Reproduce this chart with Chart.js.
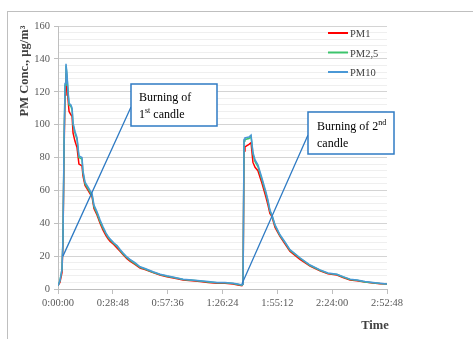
<!DOCTYPE html>
<html>
<head>
<meta charset="utf-8">
<script src="https://cdn.jsdelivr.net/npm/chart.js@4"></script>
<style>
  body { margin: 0; overflow: hidden; background: #fff; }
  #frame { position: absolute; left: 7px; top: 11px; width: 600px; height: 500px; border: 1px solid #bfbfbf; }
  #chart { position: absolute; left: 0; top: 0; }
</style>
</head>
<body>
<div id="frame"></div>
<canvas id="chart" width="473" height="339"></canvas>
<script>
// time of each reading, minutes from start
const timeMin = [0, 1.0, 2.1, 2.6, 3.2, 3.7, 4.2, 4.7, 5.3, 5.8, 6.8, 7.4, 7.9, 8.9, 10, 11, 12.6, 13.1, 14.2, 15.8,
  16.8, 17.9, 18.9, 20.5, 22.1, 23.6, 25.2, 26.3, 27.3, 29.4, 31, 32.6, 34.1, 36.2, 37.8, 40.4, 43.1, 45.7, 49.9, 53.6,
  57.2, 61.4, 65.7, 70.4, 74.6, 78.8, 83.5, 87.7, 91.9, 94.5, 96.6, 97.2, 97.7, 98.2, 100.3, 101.4, 102.4, 103.5, 105, 107.1,
  109.2, 110.3, 111.3, 112.4, 114, 116.6, 119.2, 121.8, 127.1, 132.4, 137.6, 141.8, 146.5, 149.7, 153.4, 157, 161.2, 165.4, 169.1, 172.8];

const pm1 = [2, 4, 10, 28, 85, 118, 129, 127, 115, 108, 106, 105, 95, 90, 86, 76, 75, 69, 63, 60,
  58, 56, 49, 45, 40, 36, 32.5, 30.5, 29, 27, 25, 23, 21, 18.5, 17, 15, 12.8, 11.8, 10, 8.5,
  7.5, 6.5, 5.5, 5, 4.5, 4, 3.5, 3.5, 3, 2.5, 2, 3, 84, 86.5, 88, 89, 77, 74, 72, 64.5,
  56, 51, 46, 44, 37.5, 32, 27.5, 23, 18, 14, 11, 9.2, 8.5, 7, 5.5, 5, 4.2, 3.7, 3.2, 3];

const pm25 = [2, 5, 12, 30, 90, 124, 136, 130, 119, 112, 111, 109, 100, 95, 91, 80, 79, 71, 64, 61,
  59, 57, 50, 46, 41, 37, 33.5, 31.5, 30, 27.5, 26, 23.5, 21.5, 19, 17.5, 15.5, 13.2, 12.2, 10.2, 8.8,
  7.8, 6.8, 5.8, 5.3, 4.8, 4.3, 3.8, 3.8, 3.3, 2.8, 2.3, 3, 90, 91, 91.5, 92.7, 82, 77.5, 74.5, 66.5,
  58, 53, 47.5, 44.5, 38.5, 32.5, 28.2, 23.6, 18.7, 14.3, 11.4, 9.5, 8.8, 7.3, 5.8, 5.3, 4.3, 3.8, 3.3, 3];

const pm10 = [2, 5, 12, 30, 90, 125, 137, 131, 120, 113, 112, 110, 101, 96, 92, 81, 80, 72, 65, 62,
  60, 58, 51, 47, 42, 38, 34, 32, 30.5, 28, 26.5, 24, 22, 19.5, 18, 16, 13.5, 12.5, 10.5, 9,
  8, 7, 6, 5.5, 5, 4.5, 4, 4, 3.5, 3, 2.5, 3, 91, 92, 92.5, 93.7, 83, 78.5, 75.5, 67.5,
  59, 54, 48, 45, 39, 33, 28.6, 24, 19, 14.6, 11.6, 9.7, 9, 7.5, 6, 5.5, 4.5, 4, 3.5, 3];

const seriesNames = ["PM1", "PM2,5", "PM10"];
const seriesColors = ["#ff0000", "#3cc46c", "#4a98d6"];

const xStepSec = 1728; // 0:28:48
const xMaxSec = 10368; // 2:52:48
const yMax = 160;

const serif = "'Liberation Serif', 'Times New Roman', serif";
const textGrey = "#595959";

function toPoints(values) {
  return timeMin.map((t, i) => ({ x: t * 60, y: values[i] }));
}

function fmtTime(sec) {
  sec = Math.round(sec);
  const h = Math.floor(sec / 3600);
  const m = Math.floor((sec % 3600) / 60);
  const s = sec % 60;
  return h + ":" + String(m).padStart(2, "0") + ":" + String(s).padStart(2, "0");
}

// text with a raised small suffix (1st, 2nd)
function supText(ctx, base, sup, rest, x, y) {
  ctx.font = "12px " + serif;
  ctx.fillText(base, x, y);
  let w = ctx.measureText(base).width;
  ctx.font = "8px " + serif;
  ctx.fillText(sup, x + w, y - 5);
  w += ctx.measureText(sup).width;
  ctx.font = "12px " + serif;
  if (rest) ctx.fillText(rest, x + w, y);
}

const extras = {
  id: "extras",
  afterDraw(chart) {
    const ctx = chart.ctx;
    const xs = chart.scales.x;
    const ys = chart.scales.y;
    ctx.save();

    // callout pointer lines
    ctx.strokeStyle = "#2f7bc4";
    ctx.lineWidth = 1.3;
    ctx.beginPath();
    ctx.moveTo(xs.getPixelForValue(2.6 * 60), ys.getPixelForValue(20));
    ctx.lineTo(131, 107);
    ctx.moveTo(xs.getPixelForValue(96.6 * 60), ys.getPixelForValue(3));
    ctx.lineTo(308, 135);
    ctx.stroke();

    // callout boxes
    ctx.fillStyle = "#fff";
    ctx.lineWidth = 1.5;
    ctx.fillRect(131, 84, 86, 42);
    ctx.strokeRect(131, 84, 86, 42);
    ctx.fillRect(308, 112, 86, 42);
    ctx.strokeRect(308, 112, 86, 42);

    ctx.fillStyle = "#000";
    ctx.textAlign = "left";
    ctx.textBaseline = "alphabetic";
    ctx.font = "12px " + serif;
    ctx.fillText("Burning of", 139, 101);
    supText(ctx, "1", "st", " candle", 139, 118);
    supText(ctx, "Burning of 2", "nd", "", 317, 130);
    ctx.font = "12px " + serif;
    ctx.fillText("candle", 317, 147);

    // legend
    const ly = [33, 52.5, 72];
    seriesNames.forEach((name, i) => {
      ctx.strokeStyle = seriesColors[i];
      ctx.lineWidth = 2;
      ctx.beginPath();
      ctx.moveTo(328, ly[i]);
      ctx.lineTo(348, ly[i]);
      ctx.stroke();
      ctx.fillStyle = "#404040";
      ctx.font = "10.5px " + serif;
      ctx.fillText(name, 350, ly[i] + 4);
    });

    // axis titles
    ctx.fillStyle = "#404040";
    ctx.font = "bold 12.5px " + serif;
    ctx.textAlign = "center";
    ctx.fillText("Time", 375, 329);
    ctx.translate(28, 71);
    ctx.rotate(-Math.PI / 2);
    ctx.fillText("PM Conc., µg/m³", 0, 0);
    ctx.restore();
  }
};

new Chart(document.getElementById("chart"), {
  type: "line",
  data: {
    datasets: [
      { label: seriesNames[0], data: toPoints(pm1), borderColor: seriesColors[0], order: 3 },
      { label: seriesNames[1], data: toPoints(pm25), borderColor: seriesColors[1], order: 2 },
      { label: seriesNames[2], data: toPoints(pm10), borderColor: seriesColors[2], order: 1 },
    ],
  },
  options: {
    responsive: false,
    animation: false,
    devicePixelRatio: 1,
    layout: { padding: { left: 0, top: 26, right: 86, bottom: 0 } },
    elements: {
      line: { borderWidth: 1.5, tension: 0, fill: false },
      point: { radius: 0 },
    },
    plugins: { legend: { display: false }, tooltip: { enabled: false } },
    scales: {
      x: {
        type: "linear",
        min: 0,
        max: xMaxSec,
        afterFit: (s) => { s.height = 50; },
        ticks: {
          stepSize: xStepSec,
          autoSkip: false,
          maxRotation: 0,
          padding: 3,
          color: textGrey,
          font: { family: serif, size: 10.5 },
          callback: (v) => fmtTime(v),
        },
        grid: { drawOnChartArea: false, tickLength: 5, color: "#bfbfbf" },
        border: { color: "#bfbfbf" },
      },
      y: {
        min: 0,
        max: yMax,
        afterFit: (s) => { s.width = 58; },
        ticks: {
          stepSize: 4,
          autoSkip: false,
          padding: 4,
          color: textGrey,
          font: { family: serif, size: 10.5 },
          callback: (v) => (v % 20 === 0 ? v : ""),
        },
        grid: {
          tickLength: 4,
          color: (c) => (c.tick && c.tick.value % 20 === 0 ? "#d4d4d4" : "#efefef"),
          tickColor: (c) => (c.tick && c.tick.value % 20 === 0 ? "#bfbfbf" : "rgba(0,0,0,0)"),
        },
        border: { color: "#bfbfbf" },
      },
    },
  },
  plugins: [extras],
});
</script>
</body>
</html>
